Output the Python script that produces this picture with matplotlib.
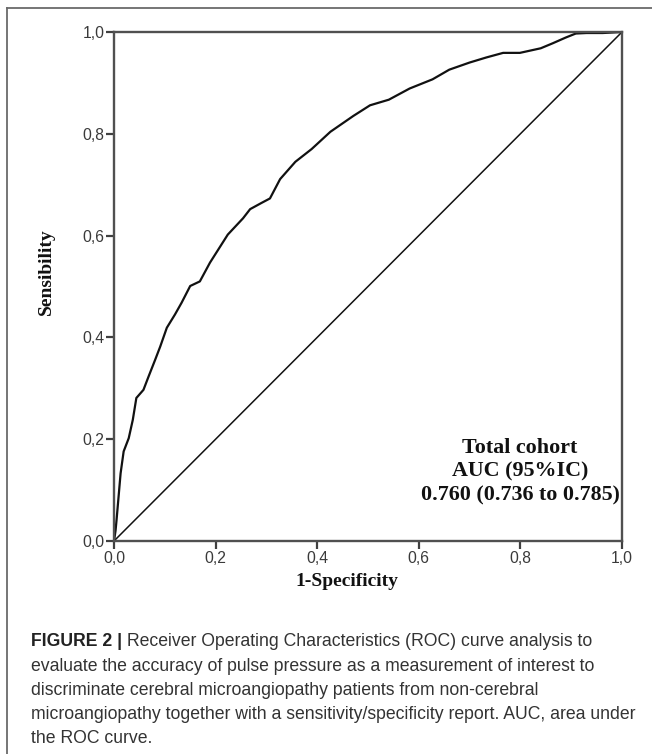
import matplotlib
matplotlib.use("Agg")
import matplotlib.pyplot as plt
from matplotlib.lines import Line2D

# ---- data ----
fpr = [0.0, 0.003, 0.005, 0.009, 0.013, 0.019, 0.029, 0.037, 0.044, 0.058, 0.068,
       0.081, 0.091, 0.104, 0.120, 0.133, 0.150, 0.169, 0.189, 0.224, 0.254,
       0.268, 0.290, 0.307, 0.327, 0.357, 0.389, 0.426, 0.471, 0.504, 0.541,
       0.582, 0.627, 0.660, 0.700, 0.733, 0.766, 0.799, 0.840, 0.864, 0.889,
       0.909, 0.930, 0.962, 1.0]
tpr = [0.0, 0.020, 0.041, 0.087, 0.133, 0.176, 0.202, 0.238, 0.281, 0.297, 0.323,
       0.356, 0.382, 0.419, 0.445, 0.468, 0.501, 0.510, 0.547, 0.602, 0.634,
       0.652, 0.664, 0.673, 0.711, 0.745, 0.770, 0.804, 0.835, 0.856, 0.867,
       0.889, 0.907, 0.926, 0.940, 0.950, 0.959, 0.959, 0.968, 0.978, 0.989,
       0.997, 0.998, 0.998, 1.0]
diag = [0.0, 1.0]
ticks = [0.0, 0.2, 0.4, 0.6, 0.8, 1.0]
tick_labels = ["0,0", "0,2", "0,4", "0,6", "0,8", "1,0"]
annot_lines = ["Total cohort", "AUC (95%IC)", "0.760 (0.736 to 0.785)"]
caption_bold = "FIGURE 2 |"
caption_first = " Receiver Operating Characteristics (ROC) curve analysis to"
caption_rest = [
    "evaluate the accuracy of pulse pressure as a measurement of interest to",
    "discriminate cerebral microangiopathy patients from non-cerebral",
    "microangiopathy together with a sensitivity/specificity report. AUC, area under",
    "the ROC curve.",
]

W, H = 652, 754
fig = plt.figure(figsize=(W / 100, H / 100), dpi=100)
fig.patch.set_facecolor("white")

ax = fig.add_axes([114 / W, 1 - 541 / H, 508 / W, 509 / H])
ax.plot(fpr, tpr, color="#111111", lw=1.6, solid_joinstyle="round")
ax.plot(diag, diag, color="#111111", lw=1.1)
ax.set_xlim(0, 1)
ax.set_ylim(0, 1)
ax.set_xticks(ticks)
ax.set_xticklabels(tick_labels)
ax.set_yticks(ticks)
ax.set_yticklabels(tick_labels)
for s in ax.spines.values():
    s.set_color("#505050")
    s.set_linewidth(1.7)
ax.tick_params(direction="out", length=5.5, width=1.6, color="#404040",
               labelsize=11.3, labelcolor="#3a3a3a", pad=1.5)
for lab in ax.get_xticklabels() + ax.get_yticklabels():
    lab.set_family("Liberation Sans")

fig.text(347 / W, 1 - 582 / H, "1-Specificity", family="Liberation Serif",
         weight="bold", fontsize=14, ha="center", va="center", color="#111111")
fig.text(46 / W, 1 - 272 / H, "Sensibility", family="Liberation Serif",
         weight="bold", fontsize=14, ha="center", va="center", rotation=90,
         color="#111111")

for i, line in enumerate(annot_lines):
    fig.text(520 / W, 1 - (448 + 23.5 * i) / H, line, family="Liberation Serif",
             weight="bold", fontsize=15.8, ha="center", va="center", color="#111111")

# outer frame lines
fig.add_artist(Line2D([7 / W, 1.0], [1 - 8 / H, 1 - 8 / H], transform=fig.transFigure,
                      color="#6a6a6a", lw=1.3))
fig.add_artist(Line2D([7 / W, 7 / W], [1 - 8 / H, 0.0], transform=fig.transFigure,
                      color="#6a6a6a", lw=1.3))

# caption
cap_x = 31 / W
cap_fs = 12.7
cap_col = "#333333"
y0 = 642
t_b = fig.text(cap_x, 1 - y0 / H, caption_bold, family="Liberation Sans",
               weight="bold", fontsize=cap_fs, ha="left", va="center", color="#222222")
fig.canvas.draw()
bb = t_b.get_window_extent(renderer=fig.canvas.get_renderer())
fig.text(bb.x1 / W, 1 - y0 / H, caption_first, family="Liberation Sans",
         fontsize=cap_fs, ha="left", va="center", color=cap_col)
for i, line in enumerate(caption_rest):
    fig.text(cap_x, 1 - (y0 + 24.2 * (i + 1)) / H, line, family="Liberation Sans",
             fontsize=cap_fs, ha="left", va="center", color=cap_col)

fig.savefig("out.png", dpi=100)
